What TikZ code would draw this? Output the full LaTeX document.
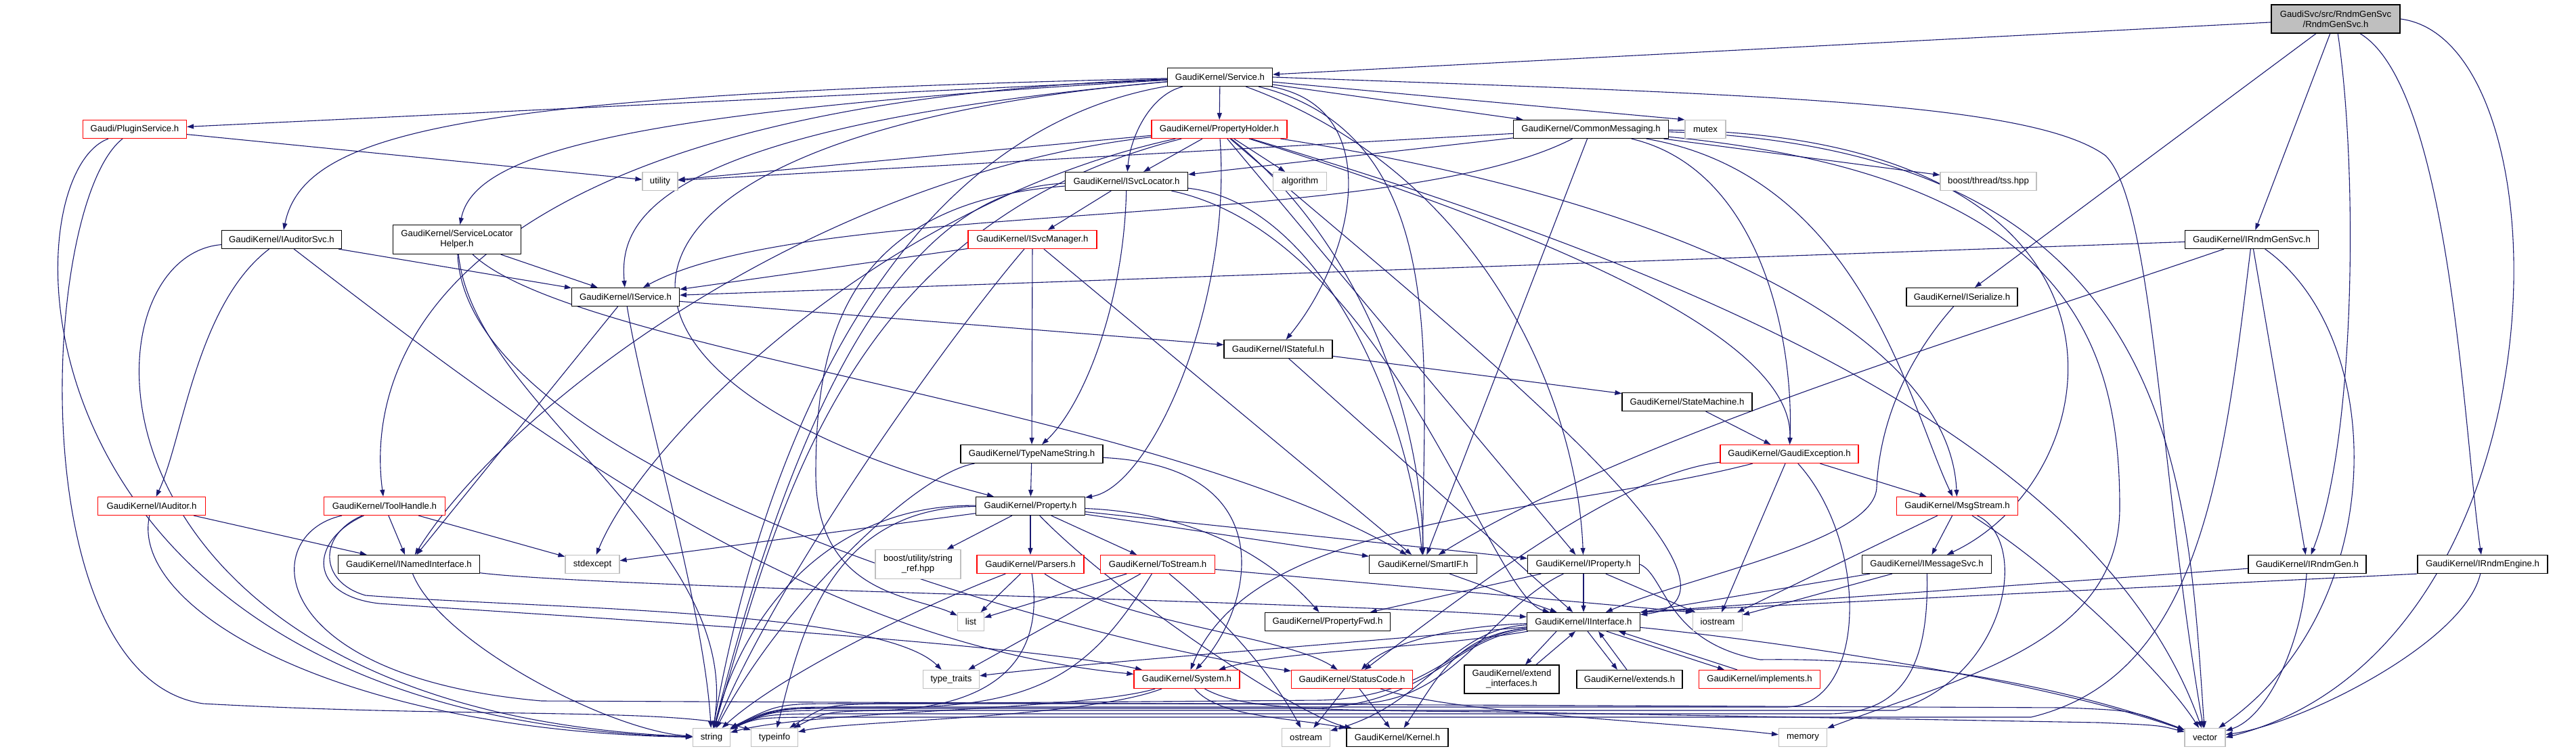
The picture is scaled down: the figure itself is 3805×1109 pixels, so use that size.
\documentclass[tikz,border=0pt]{standalone}
\usepackage{fontspec}
\setmainfont{Liberation Sans}
\usetikzlibrary{arrows.meta}
\definecolor{edgec}{HTML}{191970}
\definecolor{grayb}{HTML}{BFBFBF}
\pgfdeclarelayer{bg}
\pgfsetlayers{bg,main}
\begin{document}
\begin{tikzpicture}[x=1pt,y=-1pt,
  nb/.style={draw=black, line width=1.2pt, inner sep=0pt, minimum height=27pt, align=center, fill=white, font=\fontsize{13.2}{15}\selectfont},
  rb/.style={nb, draw=red},
  gb/.style={nb, draw=grayb},
  rootb/.style={nb, fill=grayb},
  e/.style={draw=edgec, line width=1.1pt, -{Triangle[length=10pt,width=7pt]}},
]
\useasboundingbox (0,0) rectangle (3805,1109);
% nodes
\node[rootb, minimum width=190pt, minimum height=42pt] (R) at (3450,28) {GaudiSvc/src/RndmGenSvc\\/RndmGenSvc.h};
\node[nb, minimum width=155pt] (S) at (1802,114) {GaudiKernel/Service.h};
\node[rb, minimum width=153pt] (PS) at (199,191) {Gaudi/PluginService.h};
\node[rb, minimum width=200pt] (PH) at (1801,191) {GaudiKernel/PropertyHolder.h};
\node[nb, minimum width=229pt] (CM) at (2350,191) {GaudiKernel/CommonMessaging.h};
\node[gb, minimum width=60pt] (mutex) at (2519,191) {mutex};
\node[gb, minimum width=52pt] (util) at (975,268) {utility};
\node[nb, minimum width=181pt] (ISL) at (1664,268) {GaudiKernel/ISvcLocator.h};
\node[gb, minimum width=79pt] (algo) at (1920,268) {algorithm};
\node[gb, minimum width=142pt] (boost) at (2937,268) {boost/thread/tss.hpp};
\node[nb, minimum width=177pt] (IAS) at (416,354) {GaudiKernel/IAuditorSvc.h};
\node[nb, minimum width=189pt, minimum height=43pt] (SLH) at (675,354) {GaudiKernel/ServiceLocator\\Helper.h};
\node[rb, minimum width=190pt] (ISM) at (1525,354) {GaudiKernel/ISvcManager.h};
\node[nb, minimum width=197pt] (IRGS) at (3326,354) {GaudiKernel/IRndmGenSvc.h};
\node[nb, minimum width=159pt] (IS) at (924,439) {GaudiKernel/IService.h};
\node[nb, minimum width=160pt] (IStf) at (1888,516) {GaudiKernel/IStateful.h};
\node[nb, minimum width=164pt] (ISer) at (2898,439) {GaudiKernel/ISerialize.h};
\node[nb, minimum width=192pt] (SM) at (2492,594) {GaudiKernel/StateMachine.h};
\node[nb, minimum width=210pt] (TNS) at (1524,671) {GaudiKernel/TypeNameString.h};
\node[rb, minimum width=204pt] (GE) at (2643,671) {GaudiKernel/GaudiException.h};
\node[rb, minimum width=179pt] (MS) at (2891,748) {GaudiKernel/MsgStream.h};
\node[rb, minimum width=159pt] (IA) at (224,748) {GaudiKernel/IAuditor.h};
\node[rb, minimum width=179pt] (TH) at (568,748) {GaudiKernel/ToolHandle.h};
\node[nb, minimum width=161pt] (Prop) at (1522,748) {GaudiKernel/Property.h};
\node[nb, minimum width=209pt] (INI) at (604,834) {GaudiKernel/INamedInterface.h};
\node[gb, minimum width=80pt] (stdexc) at (875,834) {stdexcept};
\node[gb, minimum width=126pt, minimum height=43pt] (bsr) at (1356,834) {boost/utility/string\\\_ref.hpp};
\node[rb, minimum width=158pt] (Pars) at (1522,834) {GaudiKernel/Parsers.h};
\node[rb, minimum width=169pt] (ToS) at (1710,834) {GaudiKernel/ToStream.h};
\node[nb, minimum width=159pt] (SIF) at (2102,834) {GaudiKernel/SmartIF.h};
\node[nb, minimum width=165pt] (IProp) at (2339,834) {GaudiKernel/IProperty.h};
\node[nb, minimum width=191pt] (IMS) at (2846,834) {GaudiKernel/IMessageSvc.h};
\node[nb, minimum width=174pt] (IRG) at (3408,834) {GaudiKernel/IRndmGen.h};
\node[nb, minimum width=192pt] (IRE) at (3667,834) {GaudiKernel/IRndmEngine.h};
\node[gb, minimum width=39pt] (list) at (1434,919) {list};
\node[nb, minimum width=185pt] (PFwd) at (1961,919) {GaudiKernel/PropertyFwd.h};
\node[nb, minimum width=167pt] (II) at (2339,919) {GaudiKernel/IInterface.h};
\node[gb, minimum width=73pt] (ios) at (2537,919) {iostream};
\node[gb, minimum width=83pt] (tt) at (1405,1004) {type\_traits};
\node[rb, minimum width=156pt] (Sys) at (1753,1004) {GaudiKernel/System.h};
\node[rb, minimum width=179pt] (SC) at (1997,1004) {GaudiKernel/StatusCode.h};
\node[nb, minimum width=140pt, minimum height=42pt] (extif) at (2233,1004) {GaudiKernel/extend\\\_interfaces.h};
\node[nb, minimum width=156pt] (exts) at (2407,1004) {GaudiKernel/extends.h};
\node[rb, minimum width=179pt] (impl) at (2599,1004) {GaudiKernel/implements.h};
\node[gb, minimum width=55pt] (str) at (1051,1090) {string};
\node[gb, minimum width=69pt] (tinfo) at (1144,1090) {typeinfo};
\node[gb, minimum width=71pt] (ost) at (1929,1090) {ostream};
\node[nb, minimum width=150pt] (Kern) at (2064,1090) {GaudiKernel/Kernel.h};
\node[gb, minimum width=71pt] (mem) at (2663,1090) {memory};
\node[gb, minimum width=60pt] (vec) at (3257,1090) {vector};

\begin{pgfonlayer}{bg}
% RndmGenSvc
\draw[e] (R) -- (S);
\draw[e] (R) -- (ISer);
\draw[e] (R) -- (IRGS);
\draw[e] (R) .. controls (3483,250) and (3480,650) .. (IRG);
\draw[e] (R) .. controls (3620,130) and (3640,650) .. (IRE);
\draw[e] (R.east) .. controls (3800,60) and (3800,960) .. (vec.east);
% Service
\draw[e] (S) -- (PS);
\draw[e] (S) .. controls (700,140) and (450,190) .. (IAS);
\draw[e] (S) .. controls (900,165) and (700,230) .. (SLH);
\draw[e] (S) .. controls (560,160) and (548,600) .. (TH);
\draw[e] (S) .. controls (950,190) and (915,330) .. (IS);
\draw[e] (S) .. controls (810,200) and (800,560) .. (Prop);
\draw[e] (S) -- (PH);
\draw[e] (S) .. controls (1700,140) and (1670,200) .. (ISL);
\draw[e] (S) -- (CM);
\draw[e] (S) -- (mutex.north west);
\draw[e] (S.east) .. controls (2600,140) and (3000,150) .. (3110,230) .. controls (3181,300) and (3190,700) .. (vec);
\draw[e] (S) .. controls (2050,160) and (2000,380) .. (IStf);
\draw[e] (S) .. controls (2150,200) and (2100,550) .. (SIF);
\draw[e] (S) .. controls (2200,260) and (2330,600) .. (IProp);
\draw[e] (S) .. controls (1300,200) and (1120,700) .. (str);
% PluginService
\draw[e] (PS) -- (util);
\draw[e] (PS) .. controls (8,260) and (0,1060) .. (str);
\draw[e] (PS) .. controls (60,300) and (30,1000) .. (300,1040) .. controls (700,1062) and (1000,1045) .. (tinfo);
% PropertyHolder
\draw[e] (PH) -- (util);
\draw[e] (PH) -- (ISL);
\draw[e] (PH) -- (algo);
\draw[e] (PH) .. controls (1300,300) and (950,650) .. (stdexc);
\draw[e] (PH) .. controls (1200,260) and (750,600) .. (INI);
\draw[e] (PH) .. controls (1250,330) and (1150,750) .. (str);
\draw[e] (PH) .. controls (1820,450) and (1700,720) .. (Prop);
\draw[e] (PH) -- (IProp);
\draw[e] (PH) .. controls (2000,350) and (2100,600) .. (SIF);
\draw[e] (PH) .. controls (2300,350) and (2650,500) .. (GE);
\draw[e] (PH) .. controls (2500,300) and (2880,500) .. (MS);
\draw[e] (PH) .. controls (2500,400) and (3100,650) .. (vec);
\draw[e] (PH) .. controls (2100,450) and (2650,880) .. (II);
% CommonMessaging
\draw[e] (CM) -- (util);
\draw[e] (CM) -- (ISL);
\draw[e] (CM) .. controls (2050,345) and (1200,290) .. (IS);
\draw[e] (CM) -- (SIF);
\draw[e] (CM) -- (boost);
\draw[e] (CM) .. controls (2600,250) and (2650,500) .. (GE);
\draw[e] (CM) .. controls (2750,260) and (2820,600) .. (MS);
\draw[e] (CM) .. controls (3200,200) and (3130,700) .. (IMS);
\draw[e] (CM) .. controls (3220,220) and (3230,700) .. (vec);
\draw[e] (CM) .. controls (3050,260) and (3131,500) .. (3131,750) .. controls (3131,950) and (2900,1000) .. (mem);
% ISvcLocator
\draw[e] (ISL) -- (ISM);
\draw[e] (ISL) .. controls (1660,450) and (1600,600) .. (TNS);
\draw[e] (ISL) .. controls (1300,280) and (1150,700) .. (str);
\draw[e] (ISL) .. controls (1250,300) and (1205,500) .. (1205,700) .. controls (1205,880) and (1350,880) .. (list);
\draw[e] (ISL) .. controls (1950,300) and (2080,600) .. (SIF);
\draw[e] (ISL) .. controls (2050,350) and (2200,880) .. (II);
% ISvcManager
\draw[e] (ISM) -- (IS);
\draw[e] (ISM) -- (TNS);
\draw[e] (ISM) .. controls (1400,500) and (1150,850) .. (str);
\draw[e] (ISM) -- (SIF);
% IAuditorSvc
\draw[e] (IAS) -- (IS);
\draw[e] (IAS) .. controls (290,450) and (270,650) .. (IA);
\draw[e] (IAS) .. controls (110,380) and (100,1050) .. (str);
\draw[e] (IAS) .. controls (800,650) and (1200,950) .. (Sys);
% ServiceLocatorHelper
\draw[e] (SLH) -- (IS);
\draw[e] (SLH) .. controls (850,520) and (1700,600) .. (SIF);
\draw[e] (SLH) .. controls (700,600) and (1100,800) .. (str);
\draw[e] (SLH) .. controls (690,700) and (1600,950) .. (SC);
% IService
\draw[e] (IS) -- (INI);
\draw[e] (IS) -- (IStf);
\draw[e] (IS) .. controls (950,600) and (1040,900) .. (str);
% IStateful, StateMachine
\draw[e] (IStf) -- (SM);
\draw[e] (IStf) -- (II);
\draw[e] (SM) -- (GE);
% GaudiException
\draw[e] (GE) -- (MS);
\draw[e] (GE) -- (ios);
\draw[e] (GE) .. controls (2400,700) and (2200,850) .. (SC);
\draw[e] (GE) .. controls (2300,760) and (1850,760) .. (Sys);
\draw[e] (GE) .. controls (2760,800) and (2760,1040) .. (2640,1045) -- (1250,1045) .. controls (1150,1045) .. (str);
% MsgStream
\draw[e] (MS) -- (IMS);
\draw[e] (MS) -- (ios);
\draw[e] (MS) .. controls (3000,800) and (2965,1000) .. (2800,1050) -- (1250,1050) .. controls (1140,1050) .. (str);
\draw[e] (MS) .. controls (3050,850) and (3200,1000) .. (vec);
% IMessageSvc
\draw[e] (IMS) -- (II);
\draw[e] (IMS) -- (ios);
\draw[e] (IMS) .. controls (2850,1000) and (2800,1055) .. (2700,1055) -- (1250,1055) .. controls (1130,1055) .. (str);
% IRndmGenSvc
\draw[e] (IRGS) -- (IS);
\draw[e] (IRGS) .. controls (2900,500) and (2400,650) .. (SIF);
\draw[e] (IRGS) -- (IRG);
\draw[e] (IRGS) .. controls (3530,500) and (3530,900) .. (vec);
\draw[e] (IRGS) .. controls (3284,700) and (3250,1000) .. (3000,1060) -- (1250,1060) .. controls (1120,1060) .. (str);
% IRndmGen, IRndmEngine, ISerialize
\draw[e] (IRG) -- (II.north east);
\draw[e] (IRG) .. controls (3400,950) and (3350,1060) .. (vec);
\draw[e] (IRE.south west) -- (II.north east);
\draw[e] (IRE) .. controls (3640,950) and (3400,1070) .. (vec);
\draw[e] (ISer) .. controls (2800,550) and (2775,650) .. (2772,720) .. controls (2770,800) and (2500,850) .. (II);
% IAuditor
\draw[e] (IA) -- (INI);
\draw[e] (IA) .. controls (190,900) and (500,1080) .. (str);
% ToolHandle
\draw[e] (TH) -- (INI);
\draw[e] (TH) -- (stdexc);
\draw[e] (TH) .. controls (470,790) and (470,860) .. (540,880) .. controls (800,900) and (1300,900) .. (tt);
\draw[e] (TH) .. controls (455,800) and (455,880) .. (560,892) .. controls (900,915) and (1500,950) .. (Sys);
\draw[e] (TH) .. controls (380,790) and (390,1000) .. (800,1036) -- (3050,1046) .. controls (3150,1050) .. (vec);
% Property
\draw[e] (Prop) -- (bsr);
\draw[e] (Prop) -- (Pars);
\draw[e] (Prop) -- (ToS);
\draw[e] (Prop) -- (stdexc);
\draw[e] (Prop) .. controls (1230,745) and (1100,900) .. (str);
\draw[e] (Prop) .. controls (1220,750) and (1180,950) .. (tinfo);
\draw[e] (Prop) -- (SIF);
\draw[e] (Prop) -- (IProp);
\draw[e] (Prop) .. controls (1800,760) and (1900,850) .. (PFwd);
\draw[e] (Prop) .. controls (1650,880) and (1920,1060) .. (Kern);
% Parsers
\draw[e] (Pars) .. controls (1350,900) and (1150,1000) .. (str);
\draw[e] (Pars) -- (list);
\draw[e] (Pars) .. controls (1650,920) and (1900,940) .. (SC);
\draw[e] (Pars) .. controls (1540,950) and (1500,1045) .. (1300,1050) .. controls (1220,1052) .. (tinfo);
% ToStream
\draw[e] (ToS) -- (list);
\draw[e] (ToS) -- (tt);
\draw[e] (ToS) .. controls (1620,980) and (1550,1040) .. (1350,1045) .. controls (1150,1045) .. (str);
\draw[e] (ToS) -- (ios.north west);
\draw[e] (ToS) .. controls (1790,900) and (1870,980) .. (ost);
% TypeNameString
\draw[e] (TNS) -- (Prop);
\draw[e] (TNS) .. controls (1350,700) and (1150,900) .. (str);
\draw[e] (TNS) .. controls (1900,690) and (1850,900) .. (Sys);
% SmartIF, IProperty, INamedInterface
\draw[e] (SIF) -- (II);
\draw[e] (IProp) -- (II);
\draw[e] (IProp) -- (PFwd);
\draw[e] (IProp) -- (ios);
\draw[e] (IProp) .. controls (2200,900) and (2150,1040) .. (2000,1040) -- (1250,1040) .. controls (1150,1040) .. (str);
\draw[e] (IProp.east) .. controls (2460,850) and (2460,950) .. (2600,975) .. controls (2900,970) and (3150,1050) .. (vec);
\draw[e] (INI) .. controls (900,870) and (2000,890) .. (II);
\draw[e] (INI) .. controls (650,950) and (900,1080) .. (str);
% IInterface
\draw[e] (II) .. controls (2150,940) and (2125,1000) .. (Kern);
\draw[e] (II) .. controls (2150,925) and (2050,950) .. (SC);
\draw[e] (II) .. controls (2100,960) and (1900,960) .. (Sys);
\draw[e] (II) .. controls (2140,930) and (2110,1040) .. (ost);
\draw[e] (II) .. controls (2000,950) and (1600,980) .. (tt);
\draw[e] (II) .. controls (2150,940) and (2120,1030) .. (1950,1035) -- (1300,1040) .. controls (1220,1042) .. (tinfo);
\draw[e] (II) .. controls (2145,945) and (2115,1035) .. (1950,1047) -- (1250,1047) .. controls (1140,1047) .. (str);
\draw[e] (II) .. controls (2600,945) and (3000,1000) .. (vec);
\draw[e] ([xshift=-40pt]II.south) -- ([xshift=20pt]extif.north);
\draw[e] ([xshift=36pt]extif.north) -- ([xshift=-12pt]II.south);
\draw[e] ([xshift=6pt]II.south) -- ([xshift=-18pt]exts.north);
\draw[e] ([xshift=-4pt]exts.north) -- ([xshift=22pt]II.south);
\draw[e] ([xshift=34pt]II.south) -- ([xshift=-52pt]impl.north);
\draw[e] ([xshift=-33pt]impl.north) -- ([xshift=52pt]II.south);
% System
\draw[e] (Sys) .. controls (1600,1050) and (1200,1050) .. (str);
\draw[e] (Sys) .. controls (1600,1062) and (1250,1065) .. (tinfo);
\draw[e] (Sys) .. controls (1800,1060) and (1900,1060) .. (Kern);
\draw[e] (Sys) .. controls (1830,1045) and (1900,1050) .. (2200,1052) -- (3100,1068) .. controls (3190,1072) .. (vec);
% StatusCode
\draw[e] (SC) -- (ost);
\draw[e] (SC) -- (Kern);
\draw[e] (SC) .. controls (2150,1055) and (2450,1065) .. (mem);
\end{pgfonlayer}
\end{tikzpicture}
\end{document}
